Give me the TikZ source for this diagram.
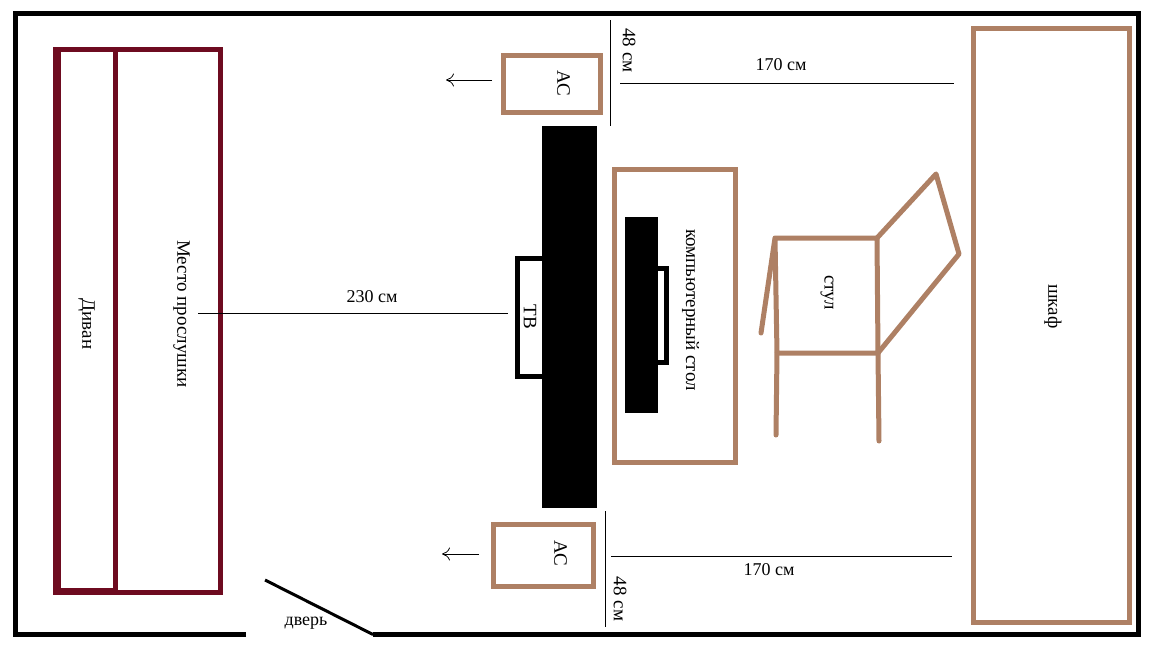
\documentclass[tikz,border=0pt]{standalone}
\usepackage{fontspec}
\setmainfont{Liberation Serif}
\usetikzlibrary{arrows.meta}
\definecolor{tan}{HTML}{AE8064}
\definecolor{maroon}{HTML}{6E0B20}
\tikzset{
  x=1pt,y=-1pt,
  lbl/.style={font=\fontsize{18}{18}\selectfont,inner sep=0pt,text=black},
  vlbl/.style={font=\fontsize{19}{19}\selectfont,inner sep=0pt,text=black,rotate=-90},
  tanbox/.style={draw=tan,line width=5pt,fill=white,inner sep=0pt},
  tanline/.style={draw=tan,line width=5pt,line cap=round,line join=round},
  sofaline/.style={draw=maroon,line width=5pt},
  dimline/.style={draw=black,line width=1pt},
  arrowline/.style={draw=black,line width=0.8pt,-{To[length=8pt,width=13pt]}},
  wall/.style={draw=black,line width=5pt}
}
\begin{document}
\begin{tikzpicture}
\useasboundingbox (0,0) rectangle (1152,648);
\fill[white] (0,0) rectangle (1152,648);
% walls
\coordinate (w1) at (246,634.5);
\coordinate (w2) at (15.5,634.5);
\coordinate (w3) at (15.5,13.5);
\coordinate (w4) at (1138.5,13.5);
\coordinate (w5) at (1138.5,634.5);
\coordinate (w6) at (373,634.5);
\coordinate (door) at (265,580);
\draw[wall,line join=miter] (w1) -- (w2) -- (w3) -- (w4) -- (w5) -- (w6);
\draw[draw=black,line width=3pt] (door) -- (w6);
% sofa
\draw[sofaline] (55.5,49.5) rectangle (220.5,592.5);
\fill[maroon] (53,47) rectangle (61,595);
\fill[maroon] (53,588) rectangle (118,595);
\draw[sofaline] (115.5,49) -- (115.5,592);
\node[vlbl] (sofa) at (86.5,324) {Диван};
\node[vlbl] (seat) at (181.5,314) {Место прослушки};
% speakers
\node[tanbox,minimum width=97pt,minimum height=57pt] (spT) at (552,84) {};
\node[vlbl] (spTl) at (563.5,83.5) {АС};
\node[tanbox,minimum width=100pt,minimum height=62pt] (spB) at (543.5,555.5) {};
\node[vlbl] (spBl) at (560.5,553) {АС};
% arrows
\coordinate (a1s) at (492,80); \coordinate (a1e) at (446,80);
\coordinate (a2s) at (479,554); \coordinate (a2e) at (442,554);
\draw[arrowline] (a1s) -- (a1e);
\draw[arrowline] (a2s) -- (a2e);
% TV
\draw[draw=black,line width=5pt] (545,258.5) -- (517.5,258.5) -- (517.5,376.5) -- (545,376.5);
\fill[black] (542,126) rectangle (597,508);
\node[vlbl] (tv) at (530,317) {ТВ};
% desk
\node[tanbox,minimum width=121pt,minimum height=293pt] (desk) at (675,316) {};
\fill[black] (625,217) rectangle (658,413);
\draw[draw=black,line width=5pt] (650,268.5) rectangle (666,362.5);
\fill[black] (648,266) rectangle (658,365);
\node[vlbl] (deskl) at (690.5,310) {компьютерный стол};
% chair
\coordinate (c1) at (775,238); \coordinate (c2) at (877,238);
\coordinate (c3) at (878,353); \coordinate (c4) at (777,353);
\coordinate (c5) at (761,333); \coordinate (c6) at (776,435);
\coordinate (c7) at (879,441); \coordinate (c8) at (936,174);
\coordinate (c9) at (959,254);
\draw[tanline] (c5) -- (c1) -- (c2) -- (c3) -- (c4) -- (c1);
\draw[tanline] (c4) -- (c6);
\draw[tanline] (c3) -- (c7);
\draw[tanline] (c2) -- (c8) -- (c9) -- (c3);
\node[vlbl] (chair) at (827,292.5) {стул};
% wardrobe
\node[tanbox,minimum width=156pt,minimum height=594pt] (ward) at (1051.5,325.5) {};
\node[vlbl] (wardl) at (1053,306.5) {шкаф};
% dimensions
\coordinate (d1) at (198,313); \coordinate (d2) at (508,313);
\draw[dimline] (d1) -- (d2);
\node[lbl] (t230) at (372,297) {230 см};
\coordinate (d3) at (610.5,20); \coordinate (d4) at (610.5,126);
\draw[dimline] (d3) -- (d4);
\coordinate (d5) at (620,83); \coordinate (d6) at (954,83);
\draw[dimline] (d5) -- (d6);
\coordinate (d7) at (605,511); \coordinate (d8) at (605,627);
\draw[dimline] (d7) -- (d8);
\coordinate (d9) at (611,556); \coordinate (d10) at (952,556);
\draw[dimline] (d9) -- (d10);
\node[vlbl] (t48a) at (629,50.5) {48 см};
\node[vlbl] (t48b) at (620,599) {48 см};
\node[lbl] (t170a) at (781,65) {170 см};
\node[lbl] (t170b) at (769,570) {170 см};
\node[lbl] (doorl) at (306,623) {дверь};
\end{tikzpicture}
\end{document}
